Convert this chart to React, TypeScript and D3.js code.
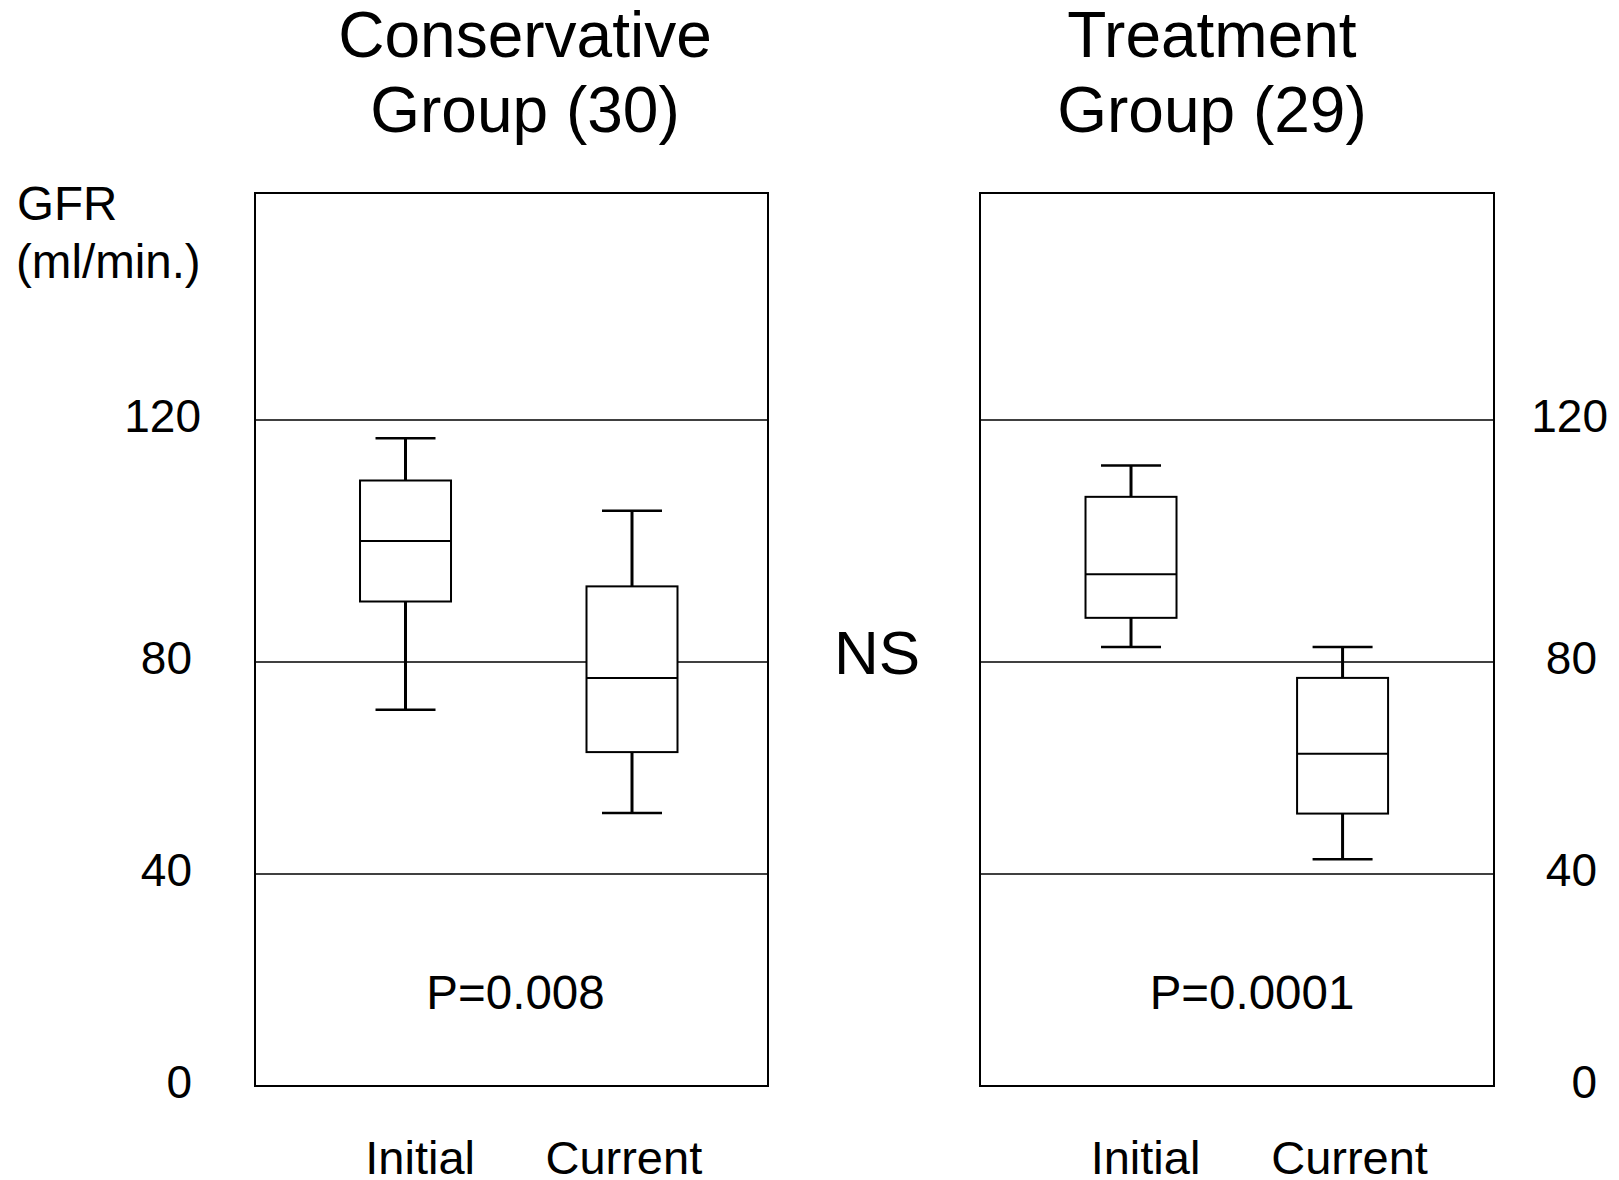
import React from 'react';
import * as d3 from 'd3';

// five-number summaries: [min, q1, median, q3, max]
const periods = ['Initial', 'Current'];
const conservativeInitial = [71, 90, 100, 110, 117];
const conservativeCurrent = [51.5, 63, 77, 92.5, 105];
const treatmentInitial = [82.5, 87.3, 94.5, 107.3, 112.5];
const treatmentCurrent = [42.8, 51.4, 62.7, 77, 82.5];

const yTicks = [0, 40, 80, 120];
const gridValues = [40, 80, 120];
const titleLines = [
  ['Conservative', 'Group (30)'],
  ['Treatment', 'Group (29)'],
];
const pLabels = ['P=0.008', 'P=0.0001'];

const W = 1619;
const H = 1180;
const FONT = '"Liberation Sans", Arial, Helvetica, sans-serif';
const frameTop = 193;

// axis is not evenly spaced in the original
const y = d3.scaleLinear().domain(yTicks).range([1086, 874, 662, 420]);

const panels = [
  { x0: 255, x1: 768, boxAt: [0.2934, 0.7349], titleX: 525, data: [conservativeInitial, conservativeCurrent] },
  { x0: 980, x1: 1494, boxAt: [0.2938, 0.7054], titleX: 1212, data: [treatmentInitial, treatmentCurrent] },
];

function Panel({ p, i }) {
  const w = p.x1 - p.x0;
  const x = d3.scalePoint().domain(periods).range([p.x0 + p.boxAt[0] * w, p.x0 + p.boxAt[1] * w]);
  const xLab = d3.scalePoint().domain(periods).range([p.x0 + 0.322 * w, p.x0 + 0.719 * w]);
  const boxW = 91;
  const capW = 60;

  return (
    <g>
      {titleLines[i].map((t, k) => (
        <text key={t} x={p.titleX} y={57 + k * 75} textAnchor="middle" fontSize={64}>{t}</text>
      ))}
      {gridValues.map(v => (
        <line key={v} x1={p.x0} x2={p.x1} y1={y(v)} y2={y(v)} stroke="#000" strokeWidth={1.5} />
      ))}
      {periods.map((per, k) => {
        const [mn, q1, md, q3, mx] = p.data[k];
        const cx = x(per);
        return (
          <g key={per}>
            <line x1={cx} x2={cx} y1={y(mx)} y2={y(q3)} stroke="#000" strokeWidth={3} />
            <line x1={cx} x2={cx} y1={y(q1)} y2={y(mn)} stroke="#000" strokeWidth={3} />
            <line x1={cx - capW / 2} x2={cx + capW / 2} y1={y(mx)} y2={y(mx)} stroke="#000" strokeWidth={2.5} />
            <line x1={cx - capW / 2} x2={cx + capW / 2} y1={y(mn)} y2={y(mn)} stroke="#000" strokeWidth={2.5} />
            <rect x={cx - boxW / 2} y={y(q3)} width={boxW} height={y(q1) - y(q3)} fill="#fff" stroke="#000" strokeWidth={2} />
            <line x1={cx - boxW / 2} x2={cx + boxW / 2} y1={y(md)} y2={y(md)} stroke="#000" strokeWidth={2} />
            <text x={xLab(per)} y={1174} textAnchor="middle" fontSize={47}>{per}</text>
          </g>
        );
      })}
      <text x={(p.x0 + p.x1) / 2 + (i === 0 ? 4 : 15)} y={1009} textAnchor="middle" fontSize={47.5}>{pLabels[i]}</text>
      <rect x={p.x0} y={frameTop} width={w} height={y(0) - frameTop} fill="none" stroke="#000" strokeWidth={2} />
    </g>
  );
}

export default function App() {
  return (
    <svg width={W} height={H} style={{ position: 'absolute', left: 0, top: 0, background: '#fff' }} fontFamily={FONT}>
      {panels.map((p, i) => <Panel key={i} p={p} i={i} />)}
      <text x={17} y={220} fontSize={47.5}>GFR</text>
      <text x={16} y={278} fontSize={47.5}>(ml/min.)</text>
      {yTicks.map(v => (
        <text key={'l' + v} x={v === 120 ? 201 : 192} y={y(v) - 4} dominantBaseline="central" textAnchor="end" fontSize={46}>{v}</text>
      ))}
      {yTicks.map(v => (
        <text key={'r' + v} x={v === 120 ? 1608 : 1597} y={y(v) - 4} dominantBaseline="central" textAnchor="end" fontSize={46}>{v}</text>
      ))}
      <text x={877} y={674} textAnchor="middle" fontSize={62}>NS</text>
    </svg>
  );
}
